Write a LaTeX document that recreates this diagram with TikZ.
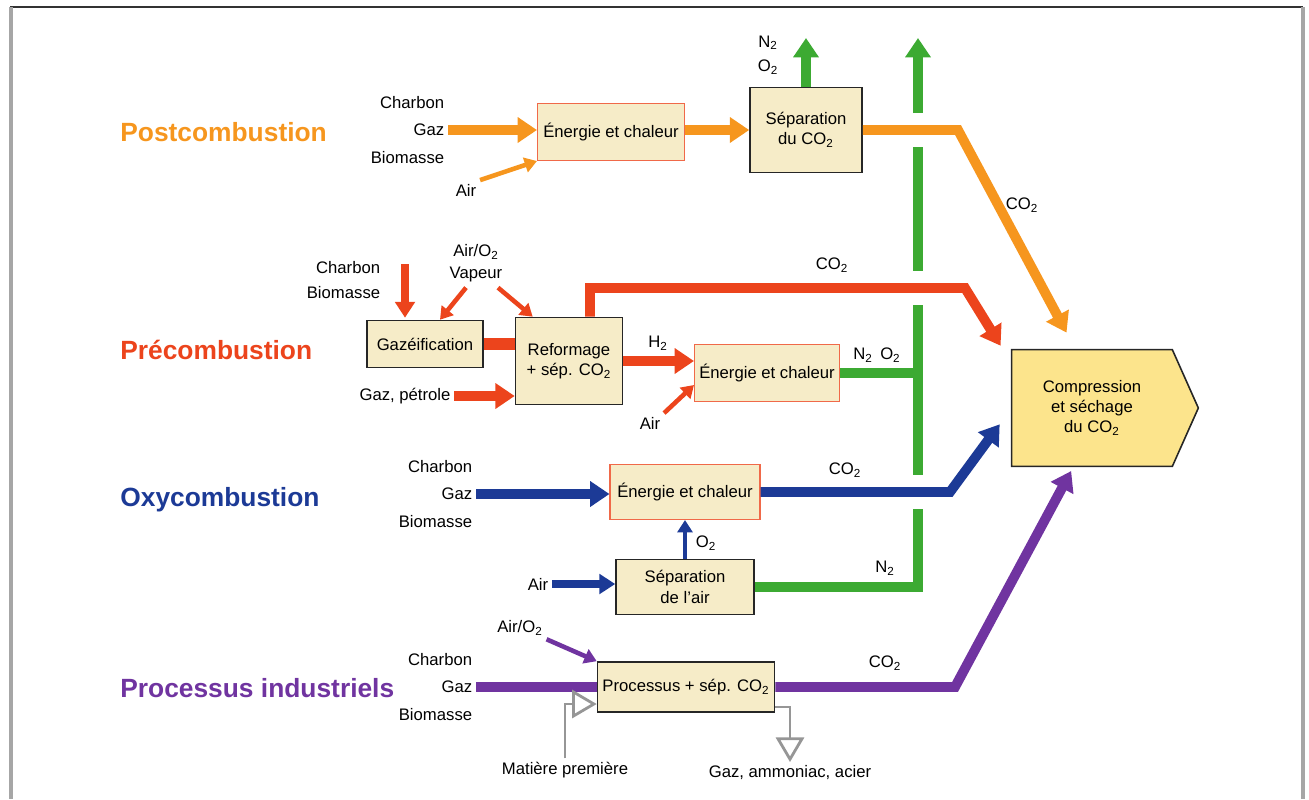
\documentclass[tikz,border=0pt]{standalone}
\usepackage{fontspec}
\setmainfont{Liberation Sans}
\usepackage{xcolor}
\definecolor{colorPost}{RGB}{246,150,30}
\definecolor{colorPre}{RGB}{236,68,28}
\definecolor{colorOxy}{RGB}{28,58,150}
\definecolor{colorIndus}{RGB}{112,52,160}
\definecolor{colorVent}{RGB}{60,170,50}
\definecolor{colorBox}{RGB}{246,236,200}
\definecolor{colorComp}{RGB}{252,228,140}
\definecolor{colorWaste}{RGB}{150,150,150}
\usepackage{tikz}
\usetikzlibrary{arrows.meta, calc, backgrounds}
\tikzset{
  proc/.style={draw=black!85, fill=colorBox, line width=0.9pt, align=center, inner sep=1pt, font=\fontsize{9.5}{11.5}\selectfont},
  heat/.style={proc, draw=colorPre!80, line width=0.6pt},
  txt/.style={font=\fontsize{9.5}{11.5}\selectfont, inner sep=2pt},
  feed/.style={txt, align=right, font=\fontsize{9.5}{15.5}\selectfont},
  route/.style={font=\fontsize{15}{18}\selectfont\bfseries, anchor=west, inner sep=0pt},
  bigflow/.style={line width=5.6pt, line join=miter, -{Triangle[length=11pt,width=14pt]}},
  midflow/.style={line width=4pt, -{Triangle[length=9pt,width=11pt]}},
  smallflow/.style={line width=2.6pt, -{Triangle[length=7pt,width=8.5pt]}},
  pipe/.style={line width=5.6pt, line join=miter},
  outlet/.style={draw=colorWaste, line width=1.6pt, -{Triangle[open,length=14pt,width=16pt]}}
}

\begin{document}
\begin{tikzpicture}[x=0.02cm, y=-0.02cm]
\useasboundingbox (0,0) rectangle (1309,799);
\draw[black!80, line width=0.8pt] (10,7) -- (1303,7);
\draw[black!35, line width=2pt] (11,7) -- (11,799);
\draw[black!35, line width=2pt] (1303,7) -- (1303,799);

\node[route, text=colorPost] (hPost) at (120,132) {Postcombustion};
\node[route, text=colorPre] (hPre) at (120,350) {Précombustion};
\node[route, text=colorOxy] (hOxy) at (120,500) {Oxycombustion};
\node[route, text=colorIndus] (hInd) at (120,688) {Processus industriels};

\node[heat, minimum width=2.94cm, minimum height=1.14cm] (E1) at (611,132) {Énergie et chaleur};
\node[proc, minimum width=2.24cm, minimum height=1.7cm] (S1) at (806,130) {Séparation\\du CO\textsubscript{2}};
\node[feed, anchor=east] (inPost) at (448,130) {Charbon\\Gaz\\Biomasse};
\node[txt] (airPost) at (466,190) {Air};
\node[txt, align=center, font=\fontsize{9.5}{14}\selectfont] (ventLbl) at (768,55) {N\textsubscript{2}\\O\textsubscript{2}};
\node[txt] (coPostLbl) at (1022,205) {CO\textsubscript{2}};
\coordinate (ventTop) at (918,38);
\coordinate (postBend) at (958,130);

\node[proc, minimum width=2.32cm, minimum height=0.94cm] (G) at (425,344) {Gazéification};
\node[proc, minimum width=2.14cm, minimum height=1.74cm] (R) at (569,361) {Reformage\\+ sép. CO\textsubscript{2}};
\node[heat, minimum width=2.9cm, minimum height=1.14cm] (E2) at (767,373) {Énergie et chaleur};
\node[feed, anchor=east, font=\fontsize{9.5}{14}\selectfont] (inPre) at (384,280) {Charbon\\Biomasse};
\node[txt, align=center, font=\fontsize{9.5}{12.5}\selectfont] (airPre) at (476,263) {Air/O\textsubscript{2}\\Vapeur};
\node[txt] (inGasPre) at (405,396) {Gaz, pétrole};
\node[txt] (airPre2) at (650,423) {Air};
\node[txt] (h2Lbl) at (658,343) {H\textsubscript{2}};
\node[txt] (coPreLbl) at (832,265) {CO\textsubscript{2}};
\node[txt] (noLbl) at (877,355) {N\textsubscript{2}\, O\textsubscript{2}};
\coordinate (feedPre) at (405,264);
\coordinate (preBend) at (965,288);

\node[heat, minimum width=3cm, minimum height=1.1cm] (E3) at (685,492) {Énergie et chaleur};
\node[proc, minimum width=2.76cm, minimum height=1.1cm] (SA) at (685,587) {Séparation\\de l'air};
\node[feed, anchor=east] (inOxy) at (476,494) {Charbon\\Gaz\\Biomasse};
\node[txt] (airOxy) at (538,584) {Air};
\node[txt] (o2Lbl) at (706,543) {O\textsubscript{2}};
\node[txt] (coOxyLbl) at (845,470) {CO\textsubscript{2}};
\node[txt] (n2Lbl) at (885,568) {N\textsubscript{2}};
\coordinate (oxyBend) at (950,492);

\node[proc, minimum width=3.54cm, minimum height=1cm] (P) at (686,687) {Processus + sép. CO\textsubscript{2}};
\node[feed, anchor=east] (inInd) at (476,687) {Charbon\\Gaz\\Biomasse};
\node[txt] (airInd) at (520,628) {Air/O\textsubscript{2}};
\node[txt] (mat) at (565,770) {Matière première};
\node[txt] (prod) at (790,773) {Gaz, ammoniac, acier};
\node[txt] (coIndLbl) at (885,663) {CO\textsubscript{2}};
\coordinate (indBend) at (955,687);

\node[align=center, font=\fontsize{9.5}{11.5}\selectfont, minimum width=3.2cm, minimum height=2.32cm] (comp) at (1092,408) {Compression\\et séchage\\du CO\textsubscript{2}};
\begin{scope}[on background layer]
\draw[fill=colorComp, draw=black!85, line width=0.9pt] (comp.north west) -- (comp.north east) -- ($(comp.east)+(26,0)$) -- (comp.south east) -- (comp.south west) -- cycle;
\end{scope}

\draw[bigflow, colorPost] (inPost.east) -- (inPost.east -| E1.west);
\draw[smallflow, colorPost] (airPost.north east) -- (E1.south west);
\draw[bigflow, colorPost] (S1.west -| E1.east) -- (S1.west);
\draw[bigflow, colorVent] (S1.north) -- (S1.north |- ventTop);
\draw[bigflow, colorPost, shorten >=11pt] (S1.east) -- (postBend) -- ($(comp.north west)+(64,0)$);

\draw[bigflow, colorVent] ($(ventTop |- postBend)+(0,-17)$) -- (ventTop);
\draw[pipe, colorVent] ($(ventTop |- postBend)+(0,17)$) -- ($(ventTop |- preBend)+(0,-17)$);
\draw[pipe, colorVent] ($(ventTop |- preBend)+(0,17)$) -- ($(ventTop |- oxyBend)+(0,-17)$);
\draw[pipe, colorVent] (SA.east) -| ($(ventTop |- oxyBend)+(0,17)$);
\draw[pipe, colorVent] (E2.east) -- (E2.east -| ventTop);

\draw[midflow, colorPre] (feedPre) -- ($(feedPre |- G.north)+(0,-2)$);
\draw[smallflow, colorPre] ($(airPre.south)+(-10,2)$) -- ($(G.north)+(15,0)$);
\draw[smallflow, colorPre] ($(airPre.south)+(22,2)$) -- ($(R.north west)+(18,0)$);
\draw[line width=6.5pt, colorPre] (G.east) -- (G.east -| R.west);
\draw[bigflow, colorPre] (inGasPre.east) -- (inGasPre.east -| R.west);
\draw[bigflow, colorPre] (R.east) -- (R.east -| E2.west);
\draw[smallflow, colorPre] (airPre2.north east) -- ($(E2.west)+(0,12)$);
\draw[bigflow, colorPre, shorten >=12pt] ($(R.north)+(21,0)$) |- (preBend) -- ($(comp.north west)+(0,14)$);

\draw[bigflow, colorOxy] (inOxy.east) -- (inOxy.east -| E3.west);
\draw[bigflow, colorOxy, shorten >=11.5pt] (E3.east) -- (oxyBend) -- (comp.west);
\draw[smallflow, colorOxy] (SA.north) -- (E3.south);
\draw[midflow, colorOxy] (airOxy.east) -- (airOxy.east -| SA.west);

\draw[pipe, colorIndus] (inInd.east) -- (inInd.east -| P.west);
\draw[smallflow, colorIndus] (airInd.south east) -- (P.north west);
\draw[bigflow, colorIndus, shorten >=3pt] (P.east) -- (indBend) -- ($(comp.south west)+(62,0)$);
\draw[outlet] (mat.north) |- ($(P.west)+(0,17)$);
\draw[outlet] ($(P.east)+(0,20)$) -| (prod.north);
\end{tikzpicture}
\end{document}
